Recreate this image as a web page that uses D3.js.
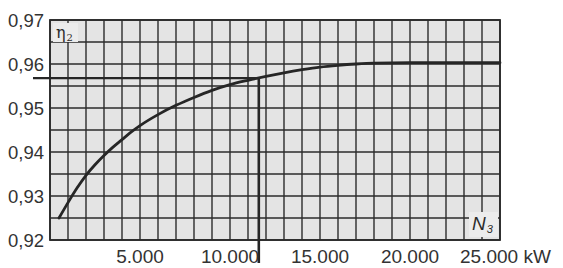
<!DOCTYPE html>
<html>
<head>
<meta charset="utf-8">
<script src="https://cdn.jsdelivr.net/npm/d3@7"></script>
<style>
  html, body { margin: 0; padding: 0; background: #fff; }
  svg { display: block; }
</style>
</head>
<body>
<svg id="chart" width="563" height="268"></svg>
<script>
// ---- data ----
const powerKW = [500, 1000, 1500, 2000, 2500, 3000, 3500, 4000, 4500, 5000, 6000, 7000, 8000, 9000, 10000, 11000, 12000, 13000, 14000, 15000, 16000, 17000, 18000, 20000, 25000];
const efficiency = [0.9250, 0.9285, 0.9318, 0.9347, 0.9371, 0.9392, 0.9411, 0.9428, 0.9445, 0.9460, 0.9485, 0.9506, 0.9524, 0.9540, 0.9553, 0.9563, 0.9572, 0.9580, 0.9587, 0.9593, 0.9597, 0.9600, 0.9602, 0.9603, 0.9603];
const xTicks = [5000, 10000, 15000, 20000, 25000];
const xTickLabels = ["5.000", "10.000", "15.000", "20.000", "25.000 kW"];
const yTicks = [0.92, 0.93, 0.94, 0.95, 0.96, 0.97];
const yTickLabels = ["0,92", "0,93", "0,94", "0,95", "0,96", "0,97"];
const refPoint = [11600, 0.9568];
const xDomain = [0, 25000];
const yDomain = [0.92, 0.97];

// ---- layout ----
const svg = d3.select("#chart");
const L = 50, R = 500, T = 20, B = 240;
const x = d3.scaleLinear().domain(xDomain).range([L, R]);
const y = d3.scaleLinear().domain(yDomain).range([B, T]);
const ink = "#2b2b2b";

// plot background
svg.append("rect").attr("x", L).attr("y", T).attr("width", R - L).attr("height", B - T)
  .attr("fill", "#e4e4e4");

// grid
const vGrid = d3.range(xDomain[0], xDomain[1] + 1, 1000);
const hGrid = d3.range(0, 11).map(i => yDomain[0] + i * 0.005);
svg.append("g").selectAll("line").data(vGrid).join("line")
  .attr("x1", d => x(d)).attr("x2", d => x(d)).attr("y1", T).attr("y2", B)
  .attr("stroke", ink).attr("stroke-width", 1.4);
svg.append("g").selectAll("line").data(hGrid).join("line")
  .attr("x1", L).attr("x2", R).attr("y1", d => y(d)).attr("y2", d => y(d))
  .attr("stroke", ink).attr("stroke-width", 1.4);

// border
svg.append("rect").attr("x", L).attr("y", T).attr("width", R - L).attr("height", B - T)
  .attr("fill", "none").attr("stroke", ink).attr("stroke-width", 1.8);

// axis labels (boxes)
svg.append("rect").attr("x", 53).attr("y", 23).attr("width", 25).attr("height", 19).attr("fill", "#ececec");
svg.append("rect").attr("x", 469).attr("y", 212).attr("width", 29).attr("height", 25).attr("fill", "#ececec");

const eta = svg.append("text").attr("x", 56).attr("y", 38)
  .attr("font-family", "DejaVu Serif, serif").attr("font-size", 16).attr("fill", ink);
eta.append("tspan").text("η");
eta.append("tspan").attr("font-size", 10).attr("dy", 3).attr("dx", 1).text("2");

const nLab = svg.append("text").attr("x", 472).attr("y", 230)
  .attr("font-family", "Liberation Sans, Arial, sans-serif").attr("font-style", "italic")
  .attr("font-size", 19).attr("fill", ink);
nLab.append("tspan").text("N");
nLab.append("tspan").attr("font-size", 11).attr("dy", 3).attr("dx", 1).text("3");

// curve
const pts = powerKW.map((d, i) => [d, efficiency[i]]);
svg.append("path").datum(pts)
  .attr("d", d3.line().x(d => x(d[0])).y(d => y(d[1])).curve(d3.curveMonotoneX))
  .attr("fill", "none").attr("stroke", "#262626").attr("stroke-width", 2.8).attr("stroke-linecap", "round");

// reference lines
svg.append("line").attr("x1", 33).attr("x2", x(refPoint[0]))
  .attr("y1", y(refPoint[1])).attr("y2", y(refPoint[1]))
  .attr("stroke", "#262626").attr("stroke-width", 2.4);
svg.append("line").attr("x1", x(refPoint[0])).attr("x2", x(refPoint[0]))
  .attr("y1", y(refPoint[1])).attr("y2", 263)
  .attr("stroke", "#262626").attr("stroke-width", 2.6);

// y tick labels
svg.append("g").selectAll("text").data(yTicks).join("text")
  .attr("x", 44).attr("y", d => y(d)).attr("dy", "0.36em").attr("text-anchor", "end")
  .attr("font-family", "Liberation Sans, Arial, sans-serif").attr("font-size", 18.5)
  .attr("fill", "#333").text((d, i) => yTickLabels[i]);

// x tick labels
svg.append("g").selectAll("text").data(xTicks).join("text")
  .attr("x", d => x(d)).attr("y", 263)
  .attr("text-anchor", (d, i) => i === xTicks.length - 1 ? "start" : "middle")
  .attr("dx", (d, i) => i === xTicks.length - 1 ? -40 : 0)
  .attr("font-family", "Liberation Sans, Arial, sans-serif").attr("font-size", 19)
  .attr("fill", "#333").text((d, i) => xTickLabels[i]);
</script>
</body>
</html>
